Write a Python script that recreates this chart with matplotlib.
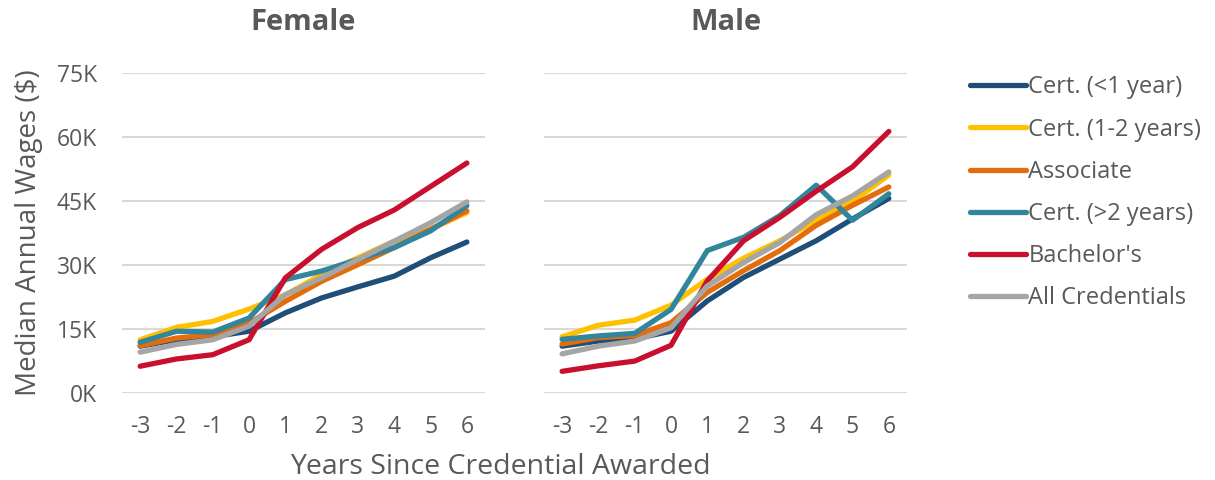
import matplotlib
matplotlib.use("Agg")
import matplotlib.pyplot as plt

plt.rcParams['font.family'] = ['Open Sans', 'DejaVu Sans']

years = [-3, -2, -1, 0, 1, 2, 3, 4, 5, 6]
series_names = ["Cert. (<1 year)", "Cert. (1-2 years)", "Associate",
                "Cert. (>2 years)", "Bachelor's", "All Credentials"]
colors = ["#1F4E79", "#FFC000", "#E46C0A", "#31859C", "#C8102E", "#A5A5A5"]

# median wages in thousands of dollars
female = {
    "Cert. (<1 year)":   [11.0, 12.5, 13.2, 14.5, 18.8, 22.3, 24.9, 27.4, 31.7, 35.4],
    "Cert. (1-2 years)": [12.5, 15.4, 16.8, 19.7, 23.0, 27.8, 31.7, 35.6, 38.4, 42.3],
    "Associate":         [11.1, 12.9, 13.7, 16.4, 21.5, 26.2, 30.1, 34.1, 38.4, 42.7],
    "Cert. (>2 years)":  [11.9, 14.5, 14.3, 17.6, 26.6, 28.6, 31.3, 34.1, 38.0, 43.9],
    "Bachelor's":        [6.3, 8.0, 9.0, 12.5, 27.0, 33.7, 38.8, 42.9, 48.4, 53.9],
    "All Credentials":   [9.6, 11.4, 12.5, 15.7, 23.1, 27.0, 31.3, 35.6, 39.9, 44.8],
}
male = {
    "Cert. (<1 year)":   [11.0, 12.2, 12.7, 14.5, 21.6, 27.1, 31.4, 35.7, 40.8, 45.6],
    "Cert. (1-2 years)": [13.2, 15.9, 17.1, 20.6, 26.7, 31.6, 35.7, 40.5, 44.9, 51.1],
    "Associate":         [11.5, 13.0, 13.5, 16.5, 23.6, 28.7, 33.4, 39.3, 44.0, 48.3],
    "Cert. (>2 years)":  [12.6, 13.4, 14.0, 19.6, 33.4, 36.5, 41.6, 48.7, 40.5, 46.7],
    "Bachelor's":        [5.1, 6.4, 7.5, 11.2, 26.3, 35.7, 41.2, 47.3, 53.0, 61.3],
    "All Credentials":   [9.2, 11.0, 12.2, 15.3, 25.1, 30.6, 35.3, 41.8, 46.2, 51.8],
}
y_ticks = [0, 15, 30, 45, 60, 75]
y_labels = ["0K", "15K", "30K", "45K", "60K", "75K"]

text_color = "#595959"
fig = plt.figure(figsize=(12.15, 4.8), dpi=100)
ax1 = fig.add_axes([0.1004, 0.181, 0.2988, 0.667])
ax2 = fig.add_axes([0.4477, 0.181, 0.2988, 0.667])

for ax, data, title in [(ax1, female, "Female"), (ax2, male, "Male")]:
    for name, c in zip(series_names, colors):
        ax.plot(years, data[name], color=c, lw=3.8, solid_capstyle='round',
                solid_joinstyle='round', label=name)
    ax.set_xlim(-3.5, 6.5)
    ax.set_ylim(0, 75)
    ax.set_yticks(y_ticks)
    ax.set_xticks(years)
    ax.set_xticklabels([str(y) for y in years])
    ax.grid(axis='y', color='#D9D9D9', lw=1.5)
    ax.set_axisbelow(True)
    for s in ax.spines.values():
        s.set_visible(False)
    ax.tick_params(length=0, labelsize=16.5, colors=text_color, pad=16)
    ax.set_title(title, fontsize=21, fontweight='bold', color=text_color, pad=31)

ax1.set_yticklabels(y_labels)
ax1.tick_params(axis='y', pad=18)
ax2.set_yticklabels([])
ax1.set_ylabel("Median Annual Wages ($)", fontsize=20, color=text_color, labelpad=10)
fig.text(0.412, 0.012, "Years Since Credential Awarded", fontsize=20.5,
         color=text_color, ha='center')

handles, labels = ax1.get_legend_handles_labels()
fig.legend(handles, labels, loc='upper left', bbox_to_anchor=(0.781, 0.887),
           frameon=False, fontsize=17, labelcolor=text_color, handlelength=2.35,
           handletextpad=0.12, labelspacing=0.77)

fig.savefig("out.png", dpi=100)
